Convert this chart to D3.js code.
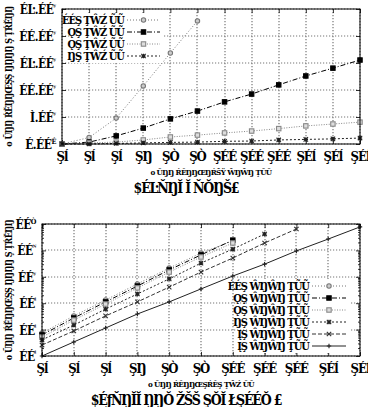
<!DOCTYPE html>
<html>
<head>
<meta charset="utf-8">
<script src="https://cdn.jsdelivr.net/npm/d3@7"></script>
<style>
  body { margin: 0; background: #fff; }
  svg text { font-family: "DejaVu Serif Condensed", "Liberation Serif", serif; font-weight: bold; fill: #000; }
</style>
</head>
<body>
<svg id="chart" width="368" height="407"></svg>
<script>
// ---- data ----
// top panel: linear y, in tick units
const topX = [0, 1, 2, 3, 4, 5, 6, 7, 8, 9, 10, 11];
const topS1 = [0, 0.24, 0.96, 2.15, 3.37, 4.56];
const topS2 = [0, 0.07, 0.30, 0.59, 0.93, 1.22, 1.56, 1.85, 2.19, 2.52, 2.81, 3.11];
const topS3 = [0, 0.04, 0.07, 0.15, 0.26, 0.33, 0.41, 0.48, 0.57, 0.67, 0.74, 0.81];
const topS4 = [0, 0, 0.02, 0.04, 0.06, 0.07, 0.10, 0.11, 0.15, 0.17, 0.19, 0.22];
const topXLabels = ["Şĺ", "Şĺ", "Şĺ", "ŞŊ", "ŞÒ", "ŞÒ", "ŞÉÉ", "ŞÉÉ", "ŞÉÉ", "ŞÉĺ", "ŞÉĺ", "ŞÉĺ"];
const topYLabels = [["É.ÉÉ", "É"], ["Ì.ÉÉ", "ʸ"], ["ÉÉ.ÉÉ", "ʸ"], ["ÉĿ.ÉÉ", "ʸ"], ["ÉÉ.ÉÉ", "ʸ"], ["ÉĿ.ÉÉ", "ʸ"]];
const topLegend = ["ÉÉŞ ŢŴŹ ŨŨ", "ǪŞ ŢŴŹ ŨŨ", "ǪŞ ŢŴŹ ŨŨ", "ŊŞ ŢŴŹ ŨŨ"];
const topXTitle = "ο ŨŊŊ ŔĔŊŊŒŊŔŠŸ ŴŊŴŊ ŢŨŨ";
const topTitle = "$ÉĿŇŊĬ Ĭ ŇŎŊŠ£";
const topYTitle = "ο ŨŊŊ ŔĔŊŊŒŞŞ ŊŊŊŊ Ş ŢŔĔŊŊ";

// bottom panel: log y
const botX = [0, 1, 2, 3, 4, 5, 6, 7, 8, 9, 10];
const botS1 = [7.4, 33, 132, 537, 2140, 7940, 22900];
const botS2 = [6.3, 27.5, 112, 447, 1820, 6760, 24500];
const botS3 = [5.2, 22.9, 93, 380, 1510, 5620, 19100];
const botS4 = [4.1, 14.8, 60, 224, 832, 3310, 11200, 41700];
const botS5 = [2.6, 8.9, 33, 112, 407, 1510, 5130, 19100, 64600];
const botS6 = [1, 3.4, 11.5, 39, 112, 347, 1070, 3020, 9550, 26900, 77600];
const botXLabels = ["Şĺ", "Şĺ", "Şĺ", "ŞŊ", "ŞÒ", "ŞÒ", "ŞÉÉ", "ŞÉÉ", "ŞÉÉ", "ŞÉĺ", "ŞÉĺ"];
const botYTicks = [1, 10, 100, 1000, 10000, 100000];
const botYLabels = [["ÉÉ", "ˡ"], ["ÉÉ", "ˡ"], ["ÉÉ", "ˡ"], ["ÉÉ", "ʸ"], ["ÉÉ", "ᴺ"], ["ÉÉ", "Ò"]];
const botLegend = ["ÉÉŞ ŴŊŴŊ ŢŨŨ", "ǪŞ ŴŊŴŊ ŢŨŨ", "ǪŞ ŴŊŴŊ ŢŨŨ", "ŊŞ ŴŊŴŊ ŢŨŨ", "ĮŞ ŴŊŴŊ ŢŨŨ", "ĮŞ ŴŊŴŊ ŢŨŨ"];
const botXTitle = "ο ŨŊŊ ŔĔŊŊŒŞŔĔŞ ŢŴŹ ŨŨ";
const botTitle = "$ÉƒŇŊĬĬ ŊŊŎ ŽŠŠ ŞŎĬ ŁŞÉÉŎ £";
const botYTitle = "ο ŨŊŊ ŔĔŊŊŒŞŞ ŊŊŊŊ Ş ŢŔĔŊŊ";

// series styles
const styles = [
  { color: "#777", fill: "#ccc", dash: "1,2", marker: "circle" },
  { color: "#000", fill: "#000", dash: "5,2,1,2", marker: "fsquare" },
  { color: "#888", fill: "#ddd", dash: "1,1.5", marker: "osquare" },
  { color: "#222", fill: "none", dash: "2,2", marker: "star" },
  { color: "#333", fill: "none", dash: "4,2", marker: "cross" },
  { color: "#222", fill: "none", dash: null, marker: "plus" }
];

const svg = d3.select("#chart");

function drawMarker(g, st, x, y) {
  const s = 2.2, type = st.marker, color = st.color;
  if (type === "circle") {
    g.append("circle").attr("cx", x).attr("cy", y).attr("r", s)
      .attr("fill", st.fill).attr("stroke", color).attr("stroke-width", 1.1);
  } else if (type === "fsquare" || type === "osquare") {
    g.append("rect").attr("x", x - s).attr("y", y - s).attr("width", 2 * s).attr("height", 2 * s)
      .attr("fill", st.fill).attr("stroke", color).attr("stroke-width", 1.1);
  } else {
    let p = "";
    if (type === "plus" || type === "star") p += `M${x - s},${y}H${x + s}M${x},${y - s}V${y + s}`;
    if (type === "cross" || type === "star") p += `M${x - s},${y - s}L${x + s},${y + s}M${x - s},${y + s}L${x + s},${y - s}`;
    g.append("path").attr("d", p).attr("stroke", color).attr("stroke-width", 1.1).attr("fill", "none");
  }
}

function drawSeries(g, xs, ys, style, xScale, yScale) {
  const pts = ys.map((v, i) => [xScale(xs[i]), yScale(v)]);
  g.append("path")
    .attr("d", d3.line()(pts))
    .attr("fill", "none")
    .attr("stroke", style.color)
    .attr("stroke-width", 1)
    .attr("stroke-dasharray", style.dash);
  pts.forEach(p => drawMarker(g, style, p[0], p[1]));
}

function supLabel(g, x, y, parts, size) {
  const t = g.append("text").attr("x", x).attr("y", y)
    .attr("text-anchor", "end").attr("font-size", size).attr("letter-spacing", -0.5);
  t.append("tspan").text(parts[0]);
  t.append("tspan").attr("dy", -5).attr("font-size", size * 0.6).text(parts[1]);
}

function panel(opt) {
  const { left, right, top, bottom } = opt;
  const g = svg.append("g");
  const x = d3.scaleLinear().domain(opt.xDomain).range([left, right]);
  const y = opt.log
    ? d3.scaleLog().domain(opt.yDomain).range([bottom, top])
    : d3.scaleLinear().domain(opt.yDomain).range([bottom, top]);

  // grid: dotted lines at every major tick, drawn as small dot paths
  const gridPath = [];
  opt.xTicks.forEach(t => {
    const px = Math.round(x(t));
    gridPath.push(`M${px},${top}V${bottom}`);
  });
  opt.yTicks.forEach(t => {
    const py = Math.round(y(t));
    gridPath.push(`M${left},${py}H${right}`);
  });
  g.append("path")
    .attr("d", gridPath.join(""))
    .attr("fill", "none")
    .attr("stroke", "#777")
    .attr("stroke-width", 1.2)
    .attr("stroke-dasharray", "1.2,1.8");

  // axes with inward ticks (mirrored)
  const ax = g.append("g");
  ax.append("g").attr("transform", `translate(0,${bottom})`)
    .call(d3.axisTop(x).tickValues(opt.xTicks).tickSize(4).tickFormat(""));
  ax.append("g").attr("transform", `translate(0,${top})`)
    .call(d3.axisBottom(x).tickValues(opt.xTicks).tickSize(4).tickFormat(""));
  ax.append("g").attr("transform", `translate(${left},0)`)
    .call(d3.axisRight(y).tickValues(opt.yTicks).tickSize(4).tickFormat(""));
  ax.append("g").attr("transform", `translate(${right},0)`)
    .call(d3.axisLeft(y).tickValues(opt.yTicks).tickSize(4).tickFormat(""));
  if (opt.log) {
    const minor = y.ticks().filter(v => !opt.yTicks.includes(v));
    ax.append("g").attr("transform", `translate(${left},0)`)
      .call(d3.axisRight(y).tickValues(minor).tickSize(2).tickFormat(""));
    ax.append("g").attr("transform", `translate(${right},0)`)
      .call(d3.axisLeft(y).tickValues(minor).tickSize(2).tickFormat(""));
  }
  ax.selectAll(".domain").remove();
  ax.selectAll("line").attr("stroke", "#000").attr("stroke-width", 0.8);

  // series
  opt.series.forEach((s, i) => drawSeries(g, opt.xVals, s, styles[i], x, y));

  // border
  g.append("rect").attr("x", left).attr("y", top).attr("width", right - left).attr("height", bottom - top)
    .attr("fill", "none").attr("stroke", "#000").attr("stroke-width", 1);

  // tick labels
  opt.xTicks.forEach((t, i) => g.append("text")
    .attr("x", x(t)).attr("y", bottom + 17).attr("text-anchor", "middle")
    .attr("font-size", 13).attr("letter-spacing", -1).text(opt.xLabels[i]));
  opt.yTicks.forEach((t, i) => supLabel(g, left - 6, y(t) + 5, opt.yLabels[i], 12));

  // titles
  g.append("text").attr("x", (left + right) / 2).attr("y", bottom + 31)
    .attr("text-anchor", "middle").attr("font-size", 8).attr("letter-spacing", -0.6).text(opt.xTitle);
  g.append("text").attr("x", 186).attr("y", bottom + 49)
    .attr("text-anchor", "middle").attr("font-size", 14).attr("letter-spacing", -1.2).text(opt.title);
  g.append("text")
    .attr("transform", `translate(${opt.yTitleX},${(top + bottom) / 2}) rotate(-90)`)
    .attr("text-anchor", "middle").attr("font-size", 9).attr("letter-spacing", -0.6).text(opt.yTitle);

  // legend
  const L = opt.legend;
  const lg = g.append("g");
  lg.append("rect").attr("x", L.x0).attr("y", L.y0 - 7).attr("width", L.x1 - L.x0)
    .attr("height", opt.legendLabels.length * 12 + 2).attr("fill", "#fff");
  opt.legendLabels.forEach((lab, i) => {
    const yy = L.y0 + i * 12;
    lg.append("text").attr("x", L.textEnd).attr("y", yy + 4).attr("text-anchor", "end")
      .attr("font-size", 11).attr("letter-spacing", -1).text(lab);
    const st = styles[i];
    lg.append("line").attr("x1", L.s0).attr("x2", L.s1).attr("y1", yy).attr("y2", yy)
      .attr("stroke", st.color).attr("stroke-width", 1).attr("stroke-dasharray", st.dash);
    drawMarker(lg, st, (L.s0 + L.s1) / 2, yy);
  });
}

panel({
  left: 62, right: 360, top: 9, bottom: 144,
  xDomain: [0, 11], yDomain: [0, 5], log: false,
  xTicks: topX, yTicks: [0, 1, 2, 3, 4, 5],
  xVals: topX, series: [topS1, topS2, topS3, topS4],
  xLabels: topXLabels, yLabels: topYLabels,
  xTitle: topXTitle, title: topTitle, yTitle: topYTitle, yTitleX: 12,
  legendLabels: topLegend,
  legend: { x0: 70, x1: 163, y0: 20, textEnd: 124, s0: 127, s1: 160 }
});

panel({
  left: 42, right: 360, top: 224, bottom: 356,
  xDomain: [0, 10], yDomain: [1, 100000], log: true,
  xTicks: botX, yTicks: botYTicks,
  xVals: botX, series: [botS1, botS2, botS3, botS4, botS5, botS6],
  xLabels: botXLabels, yLabels: botYLabels,
  xTitle: botXTitle, title: botTitle, yTitle: botYTitle, yTitleX: 12,
  legendLabels: botLegend,
  legend: { x0: 247, x1: 350, y0: 286, textEnd: 309, s0: 312, s1: 346 }
});
</script>
</body>
</html>
